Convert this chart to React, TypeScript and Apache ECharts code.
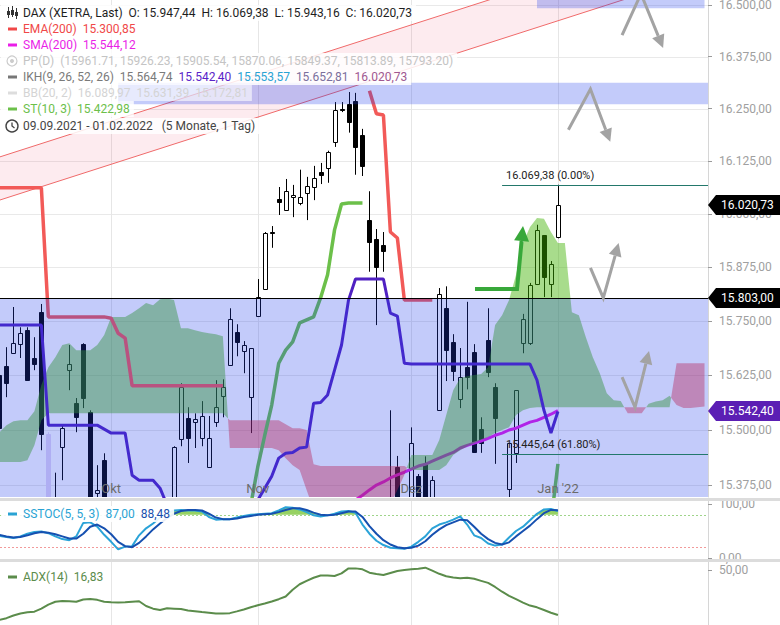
import React, { useEffect, useRef } from 'react';
import * as echarts from 'echarts';

// ---------- categories (trading days) ----------
const tradingDays: [string, number[]][] = [
  ['2021-09', [9, 10, 13, 14, 15, 16, 17, 20, 21, 22, 23, 24, 27, 28, 29, 30]],
  ['2021-10', [1, 4, 5, 6, 7, 8, 11, 12, 13, 14, 15, 18, 19, 20, 21, 22, 25, 26, 27, 28, 29]],
  ['2021-11', [1, 2, 3, 4, 5, 8, 9, 10, 11, 12, 15, 16, 17, 18, 19, 22, 23, 24, 25, 26, 29, 30]],
  ['2021-12', [1, 2, 3, 6, 7, 8, 9, 10, 13, 14, 15, 16, 17, 20, 21, 22, 23, 27, 28, 29, 30]],
  ['2022-01', [3, 4, 5, 6, 7, 10, 11, 12, 13, 14, 17, 18, 19, 20, 21, 24, 25, 26, 27, 28, 31]],
  ['2022-02', [1]],
];
const dates: string[] = tradingDays.flatMap(([m, ds]) => ds.map((d) => `${m}-${d < 10 ? '0' + d : d}`));
const monthLabels: Record<string, string> = {
  '2021-10-01': 'Okt',
  '2021-11-01': 'Nov',
  '2021-12-01': 'Dez',
  '2022-01-03': "Jan '22",
};

// ---------- axis ticks ----------
const priceTicks = [15375, 15500, 15625, 15750, 15875, 16000, 16125, 16250, 16375, 16500];
const sstocTicks = [0, 100];
const adxTicks = [50];

// ---------- OHLC ----------
const open = [15626, 15646, 15676, 15697, 15729, 15665, 15771, 15490, 15200, 15461,
  15637, 15561, 15697, 15541, 15357, 15431, 15200, 15150, 15050, 15100,
  15100, 15250, 15220, 15200, 15170, 15290, 15479, 15527, 15518, 15481,
  15415, 15518, 15577, 15650, 15725, 15681, 15575, 15762, 15825, 15958,
  16035, 16010, 16040, 16026, 16050, 16064, 16100, 16109, 16171, 16250,
  16262, 16269, 16188, 15986, 15942, 15928, 15330, 15416, 15300, 15200,
  15395, 15422, 15200, 15545, 15780, 15703, 15570, 15644, 15678, 15502,
  15706, 15598, 15300, 15366, 15447, 15699, 15699, 15837, 15951, 15837,
  15947.44];
const high = [15690, 15690, 15783, 15736, 15736, 15713, 15790, 15495, 15403, 15510,
  15695, 15573, 15699, 15545, 15420, 15447, 15260, 15200, 15210, 15110,
  15270, 15300, 15300, 15270, 15300, 15463, 15607, 15552, 15538, 15566,
  15532, 15614, 15616, 15780, 15743, 15704, 15687, 15848, 15958, 15972,
  16064, 16083, 16069, 16105, 16088, 16114, 16121, 16150, 16266, 16266,
  16290, 16288, 16202, 16054, 15965, 15958, 15545, 15441, 15340, 15506,
  15400, 15440, 15395, 15827, 15831, 15720, 15688, 15795, 15697, 15529,
  15780, 15607, 15340, 15470, 15591, 15767, 15839, 15975, 15951, 15890,
  16069.38];
const low = [15454, 15575, 15676, 15665, 15614, 15637, 15454, 15100, 15150, 15386,
  15591, 15495, 15550, 15220, 15290, 15240, 15050, 14990, 15000, 14820,
  15080, 15180, 15180, 15100, 15130, 15280, 15463, 15425, 15459, 15463,
  15415, 15507, 15529, 15650, 15669, 15630, 15493, 15762, 15825, 15921,
  15998, 16010, 15993, 16021, 15986, 16033, 16071, 16074, 16159, 16242,
  16193, 16093, 16090, 15865, 15741, 15865, 15200, 15200, 15050, 15150,
  15100, 15100, 15100, 15545, 15612, 15612, 15550, 15593, 15450, 15448,
  15621, 15423, 15100, 15300, 15425, 15676, 15695, 15834, 15806, 15806,
  15943.16];
const close = [15504, 15607, 15699, 15722, 15614, 15651, 15492, 15132, 15249, 15505,
  15651, 15529, 15573, 15248, 15364, 15261, 15157, 15036, 15195, 14973,
  15252, 15207, 15200, 15147, 15250, 15461, 15598, 15481, 15525, 15532,
  15481, 15552, 15598, 15755, 15702, 15694, 15687, 15806, 15956, 15955,
  16028, 16054, 16045, 16040, 16066, 16085, 16093, 16147, 16247, 16247,
  16219, 16159, 16114, 15935, 15876, 15914, 15257, 15280, 15100, 15470,
  15263, 15169, 15387, 15813, 15683, 15634, 15621, 15621, 15450, 15470,
  15632, 15527, 15240, 15470, 15591, 15755, 15834, 15963, 15853, 15883,
  16020.73];
const highlightDate = '2021-09-20';

// ---------- indicators ----------
const sma200 = [...Array(50).fill(null),
  15330, 15341, 15352, 15364, 15375, 15382, 15391, 15398, 15404, 15411,
  15418, 15422, 15429, 15436, 15443, 15449, 15459, 15465, 15470, 15475,
  15481, 15488, 15493, 15500, 15504, 15511, 15518, 15522, 15529, 15536,
  15544.12];
const kijun = [15741, 15741, 15741, 15741, 15741, 15741, 15741,
  15511, 15511, 15511, 15511, 15511, 15511, 15511, 15511,
  15502, 15493, 15493, 15493, 15397, 15386, 15386, 15386, 15368,
  15330, 15307, 15296, 15285, 15285, 15285, 15285, 15285, 15285, 15285,
  15296, 15307, 15323, 15341, 15368, 15395,
  15436, 15447, 15449, 15459, 15461,
  15561, 15563, 15580, 15637, 15695, 15799,
  15848, 15848, 15848, 15848, 15848,
  15769, 15762, 15653,
  15651, 15651, 15651, 15651, 15651, 15651, 15651, 15651, 15651,
  15651, 15651, 15651, 15651, 15651, 15651, 15651, 15651, 15651,
  15614, 15545, 15493, 15542.4];
const stDown = [16062, 16062, 16062, 16062, 16062, 16062, 16062,
  15760, 15760, 15760, 15760, 15760, 15760, 15760, 15760, 15760,
  15757, 15722, 15711,
  15601, 15601, 15601, 15601, 15601, 15601, 15601, 15601, 15601, 15601, 15601, 15601, 15601, 15601,
  ...Array(20).fill(null),
  16293, 16238, 16235, 15958, 15944, 15799, 15799, 15799, 15799, 15799,
  ...Array(18).fill(null)];
const stUp = [...Array(33).fill(null),
  15207, 15252, 15274, 15330, 15416, 15488, 15557, 15653, 15683, 15702,
  15746, 15753, 15760, 15804, 15858, 15963, 16024, 16026, 16026, 16026,
  ...Array(10).fill(null),
  15150, 15180, 15180, 15180, 15180, 15180, 15180, 15180, 15200, 15200,
  15200, 15200, 15200, 15200, 15230, 15260, 15290, 15422.98];
const senkouA = [15495, 15511, 15520, 15522, 15522, 15543, 15603, 15644, 15667, 15695,
  15699, 15683, 15683, 15683, 15695, 15718, 15760, 15760, 15760, 15769,
  15780, 15792, 15787, 15801, 15803, 15799, 15734, 15734, 15729, 15725,
  15722, 15720, 15715, 15459, 15459, 15459, 15459, 15459, 15459, 15459,
  15454, 15436, 15420, 15409, 15364, 15319, 15274, 15240, 15218, 15207,
  15207, 15218, 15229, 15251, 15274, 15296, 15330, 15364, 15398, 15443,
  15443, 15443, 15443, 15477, 15534, 15591, 15619, 15623, 15626, 15628,
  15644, 15741, 15764, 15799, 15858, 15932, 15970, 15991, 15989, 15958,
  15932, 15932, 15771, 15764, 15713, 15667, 15630, 15584, 15568, 15566,
  15538, 15538, 15538, 15560, 15565, 15568, 15578, 15557, 15550, 15550,
  15552, 15553.57];
const senkouB = [15427, 15427, 15427, 15427, 15431, 15465, 15522,
  15538, 15538, 15538, 15538, 15538, 15538, 15538, 15538, 15538, 15538, 15538, 15538, 15538,
  15538, 15538, 15538, 15538, 15538, 15538, 15538, 15538, 15538, 15538, 15538, 15538, 15538,
  15522, 15522, 15522, 15522, 15522, 15522, 15522, 15522,
  15513, 15504, 15504, 15500, 15422,
  15418, 15418, 15418, 15418, 15418, 15418, 15418, 15418, 15418, 15418, 15418, 15418, 15418,
  15409, 15409, 15409, 15409, 15409,
  15420, 15443, 15454, 15463, 15470, 15477, 15484, 15493, 15500, 15506, 15534, 15545, 15550,
  15552, 15552, 15552, 15552, 15552, 15552, 15552, 15552, 15552, 15552,
  15552, 15552, 15552, 15552, 15552, 15552, 15552, 15552, 15552, 15552,
  15652.81, 15652.81, 15652.81, 15652.81, 15652.81];
const sstocK = [41, 39, 37, 40, 45, 48, 49, 46, 40, 35, 33, 40, 65, 66, 58, 43, 30, 16, 21, 22,
  42, 55, 64, 75, 83, 88, 89, 88, 88, 86, 76, 71, 72, 72, 75, 78, 80, 81, 82, 83,
  88, 94, 93, 90, 85, 79, 77, 79, 82, 86, 87, 84, 62, 45, 32, 24, 19, 18, 17, 21,
  30, 40, 55, 62, 66, 71, 77, 62, 42, 37, 27, 23, 25, 38, 50, 58, 70, 82, 90, 91, 87];
const sstocD = [43, 40, 38, 39, 42, 46, 48, 47, 44, 40, 36, 36, 45, 58, 62, 55, 44, 30, 22, 20,
  28, 40, 53, 64, 74, 82, 87, 89, 89, 88, 82, 75, 72, 72, 73, 76, 78, 80, 81, 82,
  85, 89, 92, 92, 89, 84, 80, 79, 80, 83, 86, 86, 76, 59, 45, 33, 25, 20, 18, 19,
  23, 31, 43, 53, 61, 66, 71, 70, 58, 45, 35, 28, 25, 29, 40, 50, 60, 72, 83, 89, 88.48];
const adx = [13.2, 14.5, 16.5, 18, 18.8, 19.3, 21.5, 24.5, 26.6, 27.2,
  27, 26.6, 28.3, 28.6, 28, 26.6, 26.2, 26, 26.2, 26.6,
  27, 23.5, 21.5, 20.5, 21.8, 21.5, 21.2, 20.2, 19.6, 19,
  18.5, 17.9, 17.9, 18.2, 19.5, 20.9, 22.5, 24, 25.3, 26.8,
  28.5, 30.5, 35.5, 39.5, 42, 44.3, 46, 46, 45.6, 47.5,
  51.2, 51.2, 50.5, 48, 47, 46.3, 47.8, 49.3, 50, 50.6,
  51, 51.7, 49.5, 47.2, 45.4, 44.5, 43.9, 44.3, 43.5, 42,
  40.5, 37.5, 34, 31, 28.5, 26, 23.8, 22.5, 20.5, 18.5, 16.83];
const overbought = 80;
const oversold = 20;

// ---------- drawings (data coordinates: category index, price) ----------
const horizontalLevel = 15803;
const fibStart = 72;
const fibValues = [16069.38, 15445.64];
const fibPercents = ['0.00%', '61.80%'];
const channelUpper: number[][] = [[0, 16135], [101, 16681]];
const channelLower: number[][] = [[0, 16033], [101, 16576]];
const bandZones = [
  { x0: 17, x1: null as number | null, lo: 16261, hi: 16312 },
  { x0: 77, x1: 101 as number | null, lo: 16492, hi: 16512 },
];
const grayArrows: number[][][] = [
  [[89.19, 16427], [91.9, 16527], [95.07, 16396]],
  [[81.5, 16200], [84.66, 16297], [87.5, 16171]],
  [[84.66, 15874], [86.5, 15804], [88.7, 15932]],
  [[89.19, 15621], [91.05, 15552], [93.05, 15681]],
];
const greenArrow: number[][] = [[68.12, 15825], [74.14, 15825], [75.0, 15972]];
const priceTags = [
  { value: 16020.73, color: '#000000' },
  { value: 15803, color: '#000000' },
  { value: 15542.4, color: '#5b1eb4' },
];

// ---------- helpers ----------
const fmt = (v: number) => {
  const [i, d] = v.toFixed(2).split('.');
  return i.replace(/\B(?=(\d{3})+(?!\d))/g, '.') + ',' + d;
};
const monthIdx = Object.keys(monthLabels).map((d) => dates.indexOf(d));
const OVERLAY = 'rgba(33,63,237,0.27)';
const FONT = '12px Roboto';

type Pt = [number, number];
function regions(a: number[], b: number[], sign: number): Pt[][] {
  const polys: Pt[][] = [];
  let top: Pt[] = [];
  let bot: Pt[] = [];
  const n = Math.min(a.length, b.length);
  for (let i = 0; i < n; i++) {
    const d = sign * (a[i] - b[i]);
    if (d >= 0) { top.push([i, a[i]]); bot.push([i, b[i]]); }
    if (i < n - 1) {
      const d2 = sign * (a[i + 1] - b[i + 1]);
      if ((d >= 0) !== (d2 >= 0)) {
        const e1 = a[i] - b[i];
        const e2 = a[i + 1] - b[i + 1];
        const t = e1 / (e1 - e2);
        const p: Pt = [i + t, a[i] + t * (a[i + 1] - a[i])];
        top.push(p); bot.push(p);
        if (d >= 0) { polys.push(top.concat(bot.slice().reverse())); top = []; bot = []; }
      }
    }
  }
  if (top.length > 1) polys.push(top.concat(bot.slice().reverse()));
  return polys;
}
function toPx(api: any, x: number, v: number): number[] {
  const c0 = api.coord([0, v]);
  const c1 = api.coord([1, v]);
  return [c0[0] + x * (c1[0] - c0[0]), c0[1]];
}
function arrowEls(pts: number[][], color: string, width: number, hl: number, hw: number) {
  const n = pts.length;
  const T = pts[n - 1];
  const F = pts[n - 2];
  const dx = T[0] - F[0];
  const dy = T[1] - F[1];
  const L = Math.hypot(dx, dy) || 1;
  const ux = dx / L, uy = dy / L;
  const bx = T[0] - ux * hl, by = T[1] - uy * hl;
  return [
    { type: 'polyline', shape: { points: pts.slice(0, n - 1).concat([[bx, by]]) }, style: { stroke: color, lineWidth: width, fill: 'none' } },
    { type: 'polygon', shape: { points: [T, [bx - uy * hw, by + ux * hw], [bx + uy * hw, by - ux * hw]] }, style: { fill: color } },
  ];
}
function monthLines(api: any, cs: any, v: number, color: string) {
  return monthIdx.map((idx) => {
    const x = Math.round(api.coord([idx, v])[0]) + 0.5;
    return { type: 'line', shape: { x1: x, y1: cs.y, x2: x, y2: cs.y + cs.height }, style: { stroke: color, lineWidth: 1 } };
  });
}

// ---------- render items ----------
function gridMainRender(params: any, api: any) {
  const cs = params.coordSys;
  const ch: any[] = [];
  priceTicks.forEach((v) => {
    const y = Math.round(api.coord([0, v])[1]) + 0.5;
    ch.push({ type: 'line', shape: { x1: cs.x, y1: y, x2: cs.x + cs.width, y2: y }, style: { stroke: '#e9e9e9', lineWidth: 1 } });
  });
  return { type: 'group', children: ch.concat(monthLines(api, cs, 15800, '#e6e6e6')) };
}
function candleRender(params: any, api: any) {
  const i = api.value(0);
  const o = api.value(1), c = api.value(2), l = api.value(3), h = api.value(4);
  const pO = api.coord([i, o]);
  const pC = api.coord([i, c]);
  const pL = api.coord([i, l]);
  const pH = api.coord([i, h]);
  const cx = Math.round(pO[0]) + 0.5;
  const up = c >= o;
  const special = dates[i] === highlightDate;
  const stroke = special ? '#e4d8f6' : '#000000';
  const fill = special ? '#e4d8f6' : up ? '#ffffff' : '#000000';
  const top = Math.round(Math.min(pO[1], pC[1])) + 0.5;
  const bot = Math.round(Math.max(pO[1], pC[1])) + 0.5;
  return {
    type: 'group',
    children: [
      { type: 'line', shape: { x1: cx, y1: pH[1], x2: cx, y2: pL[1] }, style: { stroke, lineWidth: 1 } },
      { type: 'rect', shape: { x: cx - 2, y: top, width: 4, height: Math.max(1, bot - top) }, style: { fill, stroke, lineWidth: 1 } },
    ],
  };
}
function cloudRender(params: any, api: any) {
  const ch: any[] = [];
  regions(senkouA, senkouB, 1).forEach((p) => ch.push({ type: 'polygon', shape: { points: p.map((q) => toPx(api, q[0], q[1])) }, style: { fill: 'rgba(62,178,0,0.45)' } }));
  regions(senkouA, senkouB, -1).forEach((p) => ch.push({ type: 'polygon', shape: { points: p.map((q) => toPx(api, q[0], q[1])) }, style: { fill: 'rgba(237,22,32,0.4)' } }));
  return { type: 'group', children: ch };
}
function channelRender(params: any, api: any) {
  const u0 = toPx(api, channelUpper[0][0], channelUpper[0][1]);
  const u1 = toPx(api, channelUpper[1][0], channelUpper[1][1]);
  const l0 = toPx(api, channelLower[0][0], channelLower[0][1]);
  const l1 = toPx(api, channelLower[1][0], channelLower[1][1]);
  return {
    type: 'group',
    children: [
      { type: 'polygon', shape: { points: [u0, u1, l1, l0] }, style: { fill: 'rgba(240,60,100,0.1)' } },
      { type: 'line', shape: { x1: u0[0], y1: u0[1], x2: u1[0], y2: u1[1] }, style: { stroke: '#f06a6a', lineWidth: 1 } },
      { type: 'line', shape: { x1: l0[0], y1: l0[1], x2: l1[0], y2: l1[1] }, style: { stroke: '#f06a6a', lineWidth: 1 } },
    ],
  };
}
function zonesRender(params: any, api: any) {
  const cs = params.coordSys;
  const ch: any[] = [];
  const yTop = api.coord([0, horizontalLevel])[1];
  ch.push({ type: 'rect', shape: { x: cs.x, y: yTop, width: cs.width, height: cs.y + cs.height - yTop }, style: { fill: OVERLAY } });
  bandZones.forEach((z) => {
    const p0 = toPx(api, z.x0, z.hi);
    const p1 = toPx(api, z.x1 == null ? 0 : z.x1, z.lo);
    const x1 = z.x1 == null ? cs.x + cs.width : p1[0];
    ch.push({ type: 'rect', shape: { x: p0[0], y: p0[1], width: x1 - p0[0], height: p1[1] - p0[1] }, style: { fill: OVERLAY } });
  });
  return { type: 'group', children: ch };
}
function drawingsRender(params: any, api: any) {
  const cs = params.coordSys;
  const ch: any[] = [];
  const yh = Math.round(api.coord([0, horizontalLevel])[1]) + 0.5;
  ch.push({ type: 'line', shape: { x1: cs.x, y1: yh, x2: cs.x + cs.width, y2: yh }, style: { stroke: '#000', lineWidth: 1 } });
  fibValues.forEach((v, k) => {
    const p = toPx(api, fibStart, v);
    const y = Math.round(p[1]) + 0.5;
    ch.push({ type: 'line', shape: { x1: p[0], y1: y, x2: cs.x + cs.width, y2: y }, style: { stroke: '#23786b', lineWidth: 1 } });
    ch.push({ type: 'text', x: p[0] + 4, y: y - 10, style: { text: `${fmt(v)} (${fibPercents[k]})`, fill: '#222', font: '11px Roboto', verticalAlign: 'middle', textVerticalAlign: 'middle' } });
  });
  grayArrows.forEach((a) => {
    arrowEls(a.map((q) => toPx(api, q[0], q[1])), '#a3a3a3', 3, 13, 6.5).forEach((e) => ch.push(e));
  });
  arrowEls(greenArrow.map((q) => toPx(api, q[0], q[1])), '#38a83a', 4, 15, 7.5).forEach((e) => ch.push(e));
  monthIdx.forEach((idx) => {
    const x = api.coord([idx, horizontalLevel])[0];
    ch.push({ type: 'text', x, y: cs.y + cs.height - 9, style: { text: monthLabels[dates[idx]], fill: '#6b6b6b', font: '13px Roboto', align: 'center', textAlign: 'center', verticalAlign: 'middle', textVerticalAlign: 'middle' } });
  });
  return { type: 'group', children: ch };
}
function sstocRender(params: any, api: any) {
  const cs = params.coordSys;
  const ch: any[] = monthLines(api, cs, 50, '#e6e6e6');
  const kdMax = sstocK.map((k, i) => Math.max(k, sstocD[i]));
  const kdMin = sstocK.map((k, i) => Math.min(k, sstocD[i]));
  regions(kdMax, kdMax.map(() => overbought), 1).forEach((p) => ch.push({ type: 'polygon', shape: { points: p.map((q) => toPx(api, q[0], q[1])) }, style: { fill: '#97d263' } }));
  regions(kdMin, kdMin.map(() => oversold), -1).forEach((p) => ch.push({ type: 'polygon', shape: { points: p.map((q) => toPx(api, q[0], q[1])) }, style: { fill: '#f5a3a3' } }));
  const y80 = Math.round(api.coord([0, overbought])[1]) + 0.5;
  const y20 = Math.round(api.coord([0, oversold])[1]) + 0.5;
  ch.push({ type: 'line', shape: { x1: cs.x, y1: y80, x2: cs.x + cs.width, y2: y80 }, style: { stroke: '#9fd48a', lineWidth: 1, lineDash: [2, 2] } });
  ch.push({ type: 'line', shape: { x1: cs.x, y1: y20, x2: cs.x + cs.width, y2: y20 }, style: { stroke: '#f29a9a', lineWidth: 1, lineDash: [2, 2] } });
  return { type: 'group', children: ch };
}
function adxRender(params: any, api: any) {
  return { type: 'group', children: monthLines(api, params.coordSys, 30, '#e6e6e6') };
}

const lineSeries = (data: any[], color: string, width: number, z: number, axis = 0) => ({
  type: 'line', data, xAxisIndex: axis, yAxisIndex: axis, z, symbol: 'none', silent: true,
  connectNulls: false, clip: true, lineStyle: { color, width }, emphasis: { disabled: true },
});
const customSeries = (renderItem: any, z: number, axis: number, y: number) => ({
  type: 'custom', xAxisIndex: axis, yAxisIndex: axis, z, silent: true, clip: true,
  data: [[0, y]], renderItem,
});

function buildOption() {
  const yBase = {
    position: 'right',
    axisLine: { show: true, lineStyle: { color: '#d6d6d6' } },
    splitLine: { show: false },
  };
  const tickCfg = (vals: number[]) => ({ show: true, length: 4, customValues: vals, lineStyle: { color: '#9a9a9a' } });
  const labelCfg = (vals: number[]) => ({ customValues: vals, formatter: (v: number) => fmt(v), color: '#a0a0a0', fontSize: 12, fontFamily: 'Roboto', margin: 11 });
  return {
    animation: false,
    backgroundColor: '#ffffff',
    textStyle: { fontFamily: 'Roboto' },
    grid: [
      { left: -4, right: 72, top: 0, height: 497, outerBoundsMode: 'none' },
      { left: -4, right: 72, top: 501, height: 58, outerBoundsMode: 'none' },
      { left: -4, right: 72, top: 562, height: 63, outerBoundsMode: 'none' },
    ],
    xAxis: [0, 1, 2].map((g) => ({
      type: 'category', gridIndex: g, data: dates, boundaryGap: true,
      axisLine: { show: false }, axisTick: { show: false }, splitLine: { show: false },
      axisLabel: { show: false },
    })),
    yAxis: [
      { ...yBase, type: 'log', gridIndex: 0, min: 15348, max: 16512, axisTick: tickCfg(priceTicks), axisLabel: labelCfg(priceTicks) },
      { ...yBase, type: 'value', gridIndex: 1, min: -1.85, max: 105.6, axisTick: tickCfg(sstocTicks), axisLabel: labelCfg(sstocTicks) },
      { ...yBase, type: 'value', gridIndex: 2, min: 9.47, max: 55.9, axisTick: tickCfg(adxTicks), axisLabel: labelCfg(adxTicks) },
    ],
    series: [
      customSeries(gridMainRender, 1, 0, 15800),
      {
        type: 'custom', xAxisIndex: 0, yAxisIndex: 0, z: 2, silent: true, clip: true,
        encode: { x: 0, y: [1, 2, 3, 4] },
        data: open.map((o, i) => [i, o, close[i], low[i], high[i]]),
        renderItem: candleRender,
      },
      lineSeries(sma200, '#e619e6', 3, 3),
      customSeries(cloudRender, 4, 0, 15800),
      customSeries(channelRender, 5, 0, 15800),
      lineSeries(kijun, '#5021c2', 3, 5),
      lineSeries(stDown, '#f25a58', 3.5, 5),
      lineSeries(stUp, '#6cc04a', 3.5, 5),
      customSeries(zonesRender, 6, 0, 15800),
      customSeries(drawingsRender, 8, 0, 15800),
      customSeries(sstocRender, 1, 1, 50),
      lineSeries(sstocK, '#2ba3d8', 2, 3, 1),
      lineSeries(sstocD, '#1650b0', 2, 4, 1),
      customSeries(adxRender, 1, 2, 30),
      lineSeries(adx, '#5b8c4b', 2, 3, 2),
    ],
  };
}

const legendRows: { y: number; icon: string; color: string; bg: string; parts: [string, string][] }[] = [
  { y: 13, icon: 'candle', color: '#333', bg: 'rgba(255,255,255,0.8)', parts: [['DAX (XETRA, Last)  O: 15.947,44  H: 16.069,38  L: 15.943,16  C: 16.020,73', '#1e1e1e']] },
  { y: 29, icon: 'dash', color: '#f04848', bg: 'rgba(255,255,255,0.8)', parts: [['EMA(200)', '#f04848'], ['15.300,85', '#f04848']] },
  { y: 45, icon: 'dash', color: '#ea1ee8', bg: 'rgba(255,255,255,0.8)', parts: [['SMA(200)', '#ea1ee8'], ['15.544,12', '#ea1ee8']] },
  { y: 61, icon: 'ring', color: '#cccccc', bg: 'rgba(255,255,255,0.85)', parts: [['PP(D)  (15961.71, 15926.23, 15905.54, 15870.06, 15849.37, 15813.89, 15793.20)', '#c4c4c4']] },
  { y: 77, icon: 'dash', color: '#777777', bg: 'rgba(255,255,255,0.85)', parts: [['IKH(9, 26, 52, 26)', '#7a7a7a'], ['15.564,74', '#7a7a7a'], ['15.542,40', '#5a24c8'], ['15.553,57', '#2aa3d4'], ['15.652,81', '#7b6f9c'], ['16.020,73', '#a05890']] },
  { y: 93, icon: 'dash', color: '#dddddd', bg: 'rgba(255,255,255,0.6)', parts: [['BB(20, 2)  16.089,97  15.631,39  15.172,81', '#d4d4d4']] },
  { y: 109, icon: 'dash', color: '#6cc04a', bg: 'rgba(255,255,255,0.8)', parts: [['ST(10, 3)', '#6cc04a'], ['15.422,98', '#6cc04a']] },
  { y: 126, icon: 'clock', color: '#444444', bg: 'rgba(255,255,255,0.85)', parts: [['09.09.2021 - 01.02.2022   (5 Monate, 1 Tag)', '#444444']] },
  { y: 514, icon: 'dash', color: '#2aa3d4', bg: 'rgba(255,255,255,0.9)', parts: [['SSTOC(5, 5, 3)', '#2aa3d4'], ['87,00', '#2aa3d4'], ['88,48', '#1a4fae']] },
  { y: 577, icon: 'dash', color: '#5b8c4b', bg: 'rgba(255,255,255,0.9)', parts: [['ADX(14)', '#5b8c4b'], ['16,83', '#5b8c4b']] },
];

function buildGraphics(chart: any) {
  const els: any[] = [];
  els.push({ type: 'rect', shape: { x: 0, y: 498, width: 780, height: 3 }, style: { fill: '#dcdcdc' }, z: 50 });
  els.push({ type: 'rect', shape: { x: 0, y: 559, width: 780, height: 3 }, style: { fill: '#dcdcdc' }, z: 50 });
  priceTags.forEach((t) => {
    const y = Math.round(chart.convertToPixel({ yAxisIndex: 0 }, t.value));
    els.push({ type: 'polygon', shape: { points: [[708, y], [716, y - 10], [780, y - 10], [780, y + 10], [716, y + 10]] }, style: { fill: t.color }, z: 60 });
    els.push({ type: 'text', x: 721, y, style: { text: fmt(t.value), fill: '#ffffff', font: FONT, verticalAlign: 'middle' }, z: 61 });
  });
  legendRows.forEach((r) => {
    const text = r.parts.map((p, k) => `{p${k}|${p[0]}}`).join('  ');
    const rich: any = {};
    r.parts.forEach((p, k) => { rich['p' + k] = { fill: p[1], font: FONT }; });
    els.push({ type: 'text', x: 1, y: r.y, z: 70, style: { text, rich, font: FONT, verticalAlign: 'middle', backgroundColor: r.bg, padding: [2, 4, 2, 22] } });
    const y = r.y;
    if (r.icon === 'dash') {
      els.push({ type: 'rect', z: 71, shape: { x: 8, y: y - 1.5, width: 9, height: 3 }, style: { fill: r.color } });
    } else if (r.icon === 'ring') {
      els.push({ type: 'circle', z: 71, shape: { cx: 12, cy: y, r: 5 }, style: { fill: 'none', stroke: r.color, lineWidth: 1.2 } });
      els.push({ type: 'circle', z: 71, shape: { cx: 12, cy: y, r: 2 }, style: { fill: r.color } });
    } else if (r.icon === 'clock') {
      els.push({ type: 'circle', z: 71, shape: { cx: 12, cy: y, r: 6 }, style: { fill: 'none', stroke: r.color, lineWidth: 1.4 } });
      els.push({ type: 'polyline', z: 71, shape: { points: [[12, y - 3.5], [12, y], [14.5, y + 2]] }, style: { fill: 'none', stroke: r.color, lineWidth: 1.3 } });
    } else {
      [[8.5, -6, 5, -2, 4], [12.5, -7, 4, -3, 5], [16.5, -5, 6, -1, 4]].forEach(([x, t, b, bt, bh]) => {
        els.push({ type: 'line', z: 71, shape: { x1: x, y1: y + t, x2: x, y2: y + b }, style: { stroke: r.color, lineWidth: 1 } });
        els.push({ type: 'rect', z: 71, shape: { x: x - 1.5, y: y + bt, width: 3, height: bh }, style: { fill: r.color } });
      });
    }
  });
  return els;
}

export default function App() {
  const ref = useRef<HTMLDivElement>(null);
  useEffect(() => {
    document.body.style.margin = '0';
    const chart = echarts.init(ref.current as HTMLDivElement, null, { renderer: 'svg' });
    chart.setOption(buildOption() as any);
    chart.setOption({ graphic: { elements: buildGraphics(chart) } } as any);
    return () => chart.dispose();
  }, []);
  return <div ref={ref} style={{ width: 780, height: 625 }} />;
}
